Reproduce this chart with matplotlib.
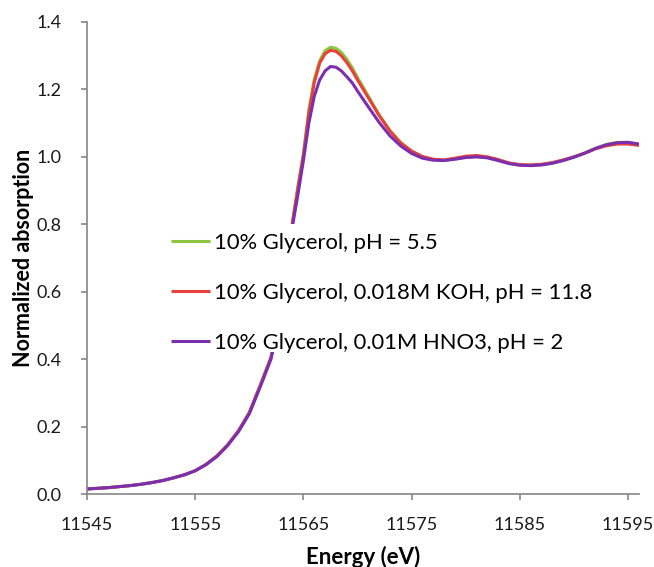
import numpy as np
import matplotlib
matplotlib.use("Agg")
import matplotlib.pyplot as plt
from matplotlib.patches import Rectangle

plt.rcParams['font.family'] = ['Lato', 'DejaVu Sans']

# energy grid (eV) and normalized absorption
energy = [11545, 11546, 11547, 11548, 11549, 11550, 11551, 11552, 11553, 11554,
          11555, 11556, 11557, 11558, 11559, 11560, 11561, 11562, 11562.5, 11563,
          11563.5, 11564, 11564.5, 11565, 11565.5, 11566, 11566.5, 11567, 11567.5, 11568,
          11568.5, 11569, 11569.5, 11570, 11571, 11572, 11573, 11574, 11575, 11576,
          11577, 11578, 11579, 11580, 11581, 11582, 11583, 11584, 11585, 11586,
          11587, 11588, 11589, 11590, 11591, 11592, 11593, 11594, 11595, 11596]

ph55 = [0.015, 0.017, 0.019, 0.022, 0.025, 0.029, 0.034, 0.040, 0.048, 0.057,
        0.069, 0.088, 0.113, 0.146, 0.188, 0.242, 0.322, 0.405, 0.480, 0.580,
        0.690, 0.810, 0.915, 1.010, 1.140, 1.230, 1.285, 1.315, 1.325, 1.322,
        1.310, 1.290, 1.265, 1.235, 1.180, 1.125, 1.078, 1.042, 1.017, 1.000,
        0.992, 0.990, 0.994, 0.999, 1.001, 0.998, 0.990, 0.981, 0.976, 0.975,
        0.977, 0.982, 0.990, 1.000, 1.012, 1.026, 1.037, 1.043, 1.043, 1.037]

koh = [0.015, 0.017, 0.019, 0.022, 0.025, 0.029, 0.034, 0.040, 0.048, 0.057,
       0.069, 0.088, 0.113, 0.146, 0.188, 0.242, 0.322, 0.405, 0.480, 0.580,
       0.690, 0.808, 0.910, 1.005, 1.130, 1.220, 1.278, 1.306, 1.316, 1.313,
       1.300, 1.280, 1.256, 1.228, 1.175, 1.122, 1.076, 1.041, 1.017, 1.001,
       0.993, 0.991, 0.996, 1.002, 1.004, 1.000, 0.992, 0.982, 0.977, 0.976,
       0.978, 0.983, 0.991, 1.000, 1.011, 1.024, 1.033, 1.038, 1.038, 1.034]

hno3 = [0.015, 0.017, 0.019, 0.022, 0.025, 0.029, 0.034, 0.040, 0.048, 0.057,
        0.069, 0.087, 0.111, 0.144, 0.185, 0.238, 0.317, 0.400, 0.474, 0.572,
        0.680, 0.797, 0.890, 0.990, 1.100, 1.180, 1.228, 1.255, 1.268, 1.266,
        1.255, 1.238, 1.220, 1.195, 1.148, 1.102, 1.062, 1.032, 1.010, 0.996,
        0.990, 0.989, 0.993, 0.998, 1.000, 0.997, 0.989, 0.980, 0.975, 0.974,
        0.976, 0.981, 0.989, 0.999, 1.011, 1.025, 1.036, 1.042, 1.043, 1.038]

labels = ["10% Glycerol, pH = 5.5",
          "10% Glycerol, 0.018M KOH, pH = 11.8",
          "10% Glycerol, 0.01M HNO3, pH = 2"]
colors = ["#8cc63f", "#e8413c", "#7b2fb0"]

fig = plt.figure(figsize=(6.54, 5.67), dpi=100)
ax = fig.add_axes([0.133, 0.1287, 0.844, 0.8325])

for ys, lab, c in zip([ph55, koh, hno3], labels, colors):
    ax.plot(energy, ys, color=c, lw=2.2, label=lab, solid_capstyle='butt')

ax.set_xlim(11545, 11596)
ax.set_ylim(0, 1.4)
ax.set_xticks(np.arange(11545, 11596, 10))
ax.set_yticks(np.arange(0, 1.41, 0.2))
ax.yaxis.set_major_formatter(matplotlib.ticker.FormatStrFormatter('%.1f'))

for s in ['top', 'right']:
    ax.spines[s].set_visible(False)
for s in ['left', 'bottom']:
    ax.spines[s].set_color('#868686')
    ax.spines[s].set_linewidth(1.2)
ax.tick_params(direction='out', length=4.3, width=1.2, color='#868686',
               labelsize=13, labelcolor='#1a1a1a')
ax.tick_params(axis='x', pad=12.5)
ax.tick_params(axis='y', pad=14)

ax.set_xlabel("Energy (eV)", fontsize=16, fontweight='bold', labelpad=9)
ax.set_ylabel("Normalized absorption", fontsize=15.5, fontweight='bold', labelpad=2)

# white legend area (Excel-style legend box, covers the lines behind it)
ax.add_patch(Rectangle((0.14, 0.30), 0.80, 0.272, transform=ax.transAxes,
                       facecolor='white', edgecolor='none', zorder=2.5))
leg = ax.legend(loc='center left', bbox_to_anchor=(0.141, 0.426), frameon=False,
                fontsize=15.8, handlelength=1.75, handletextpad=0.18,
                labelspacing=1.36, borderpad=0.3, borderaxespad=0)

fig.savefig("out.png", dpi=100)
